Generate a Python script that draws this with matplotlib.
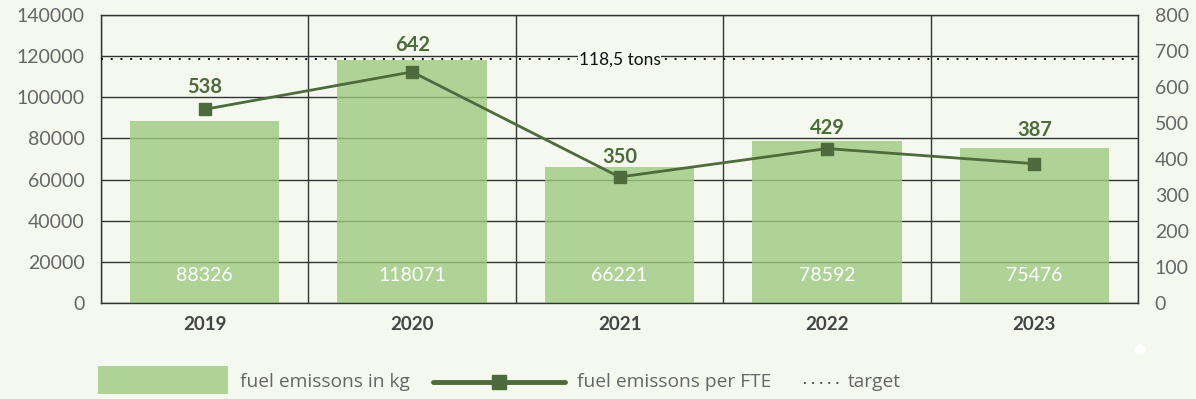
import matplotlib
matplotlib.use("Agg")
import matplotlib.pyplot as plt
from matplotlib.patches import Rectangle
from matplotlib.lines import Line2D
from matplotlib.transforms import offset_copy
import numpy as np

plt.rcParams['font.family'] = ['Lato', 'DejaVu Sans']

years = ['2019', '2020', '2021', '2022', '2023']
emissions_kg = [88326, 118071, 66221, 78592, 75476]
emissions_per_fte = [538, 642, 350, 429, 387]
target_kg = 118500
target_label = '118,5 tons'
left_ticks = [0, 20000, 40000, 60000, 80000, 100000, 120000, 140000]
right_ticks = [0, 100, 200, 300, 400, 500, 600, 700, 800]

# vertical gap (points) between each marker and its value label
label_gap_pt = [16, 19, 14.5, 15, 24.5]

bg = '#f5f8ee'
bar_color = '#9eca80'
line_color = '#4d6b3c'
grid_color = '#333333'
tick_color = '#666666'

fig = plt.figure(figsize=(11.96, 3.99), dpi=100, facecolor=bg)
ax = fig.add_axes([0.0845, 0.2406, 0.867, 0.7218])
ax.set_facecolor(bg)

x = np.arange(len(years))
ax.set_xlim(-0.5, len(years) - 0.5)
ax.set_ylim(0, 140000)

# grid: horizontal at every tick, vertical at category boundaries
for v in left_ticks:
    ax.axhline(v, color=grid_color, lw=1, zorder=1)
for b in np.arange(-0.5, len(years), 1.0):
    ax.axvline(b, color=grid_color, lw=1, zorder=1)

ax.bar(x, emissions_kg, width=0.72, color=bar_color, alpha=0.8, zorder=2)
for xi, v in zip(x, emissions_kg):
    ax.text(xi, 13500, f'{v}', ha='center', va='center', color='white',
            fontsize=14, zorder=5)

# target line
ax.axhline(target_kg, color='#111111', lw=1.4, ls=(0, (1, 4)), zorder=3)
ax.text(2, target_kg, target_label, ha='center', va='center', fontsize=12.5,
        color='#111111', zorder=4,
        bbox=dict(boxstyle='square,pad=0.05', fc=bg, ec='none'))

ax.set_xticks(x)
ax.set_xticklabels(years, fontsize=13.5, fontweight='bold', color='#444444')
ax.set_yticks(left_ticks)
ax.set_yticklabels([str(t) for t in left_ticks], fontsize=14, color=tick_color)
ax.tick_params(axis='both', length=0)
ax.tick_params(axis='x', pad=9)
ax.tick_params(axis='y', pad=12)
for s in ax.spines.values():
    s.set_color(grid_color)
    s.set_linewidth(1)

ax2 = ax.twinx()
ax2.set_ylim(0, 800)
ax2.set_yticks(right_ticks)
ax2.set_yticklabels([str(t) for t in right_ticks], fontsize=14, color=tick_color)
ax2.tick_params(axis='y', length=0, pad=12)
for s in ax2.spines.values():
    s.set_visible(False)

ax2.plot(x, emissions_per_fte, color=line_color, lw=2, marker='s',
         markersize=9, zorder=6)
for xi, v, gap in zip(x, emissions_per_fte, label_gap_pt):
    tr = offset_copy(ax2.transData, fig=fig, x=0, y=gap, units='points')
    ax2.text(xi, v, f'{v}', ha='center', va='center', color=line_color,
             fontsize=14.5, fontweight='bold', zorder=7, transform=tr)

# legend drawn in figure pixel coordinates
W, H = 1196, 399
def fx(px):
    return px / W
def fy(py):
    return 1 - py / H

legend_font = ['Open Sans', 'DejaVu Sans']
legend_size = 13.8
fig.patches.append(Rectangle((fx(98), fy(394)), fx(228) - fx(98), fy(366) - fy(394),
                             transform=fig.transFigure, fc=bar_color, alpha=0.8,
                             ec='none'))
fig.text(fx(240), fy(382), 'fuel emissons in kg', fontsize=legend_size,
         color=tick_color, va='center', ha='left', family=legend_font)
fig.lines.append(Line2D([fx(433), fx(565)], [fy(382), fy(382)],
                        transform=fig.transFigure, color=line_color, lw=3.5,
                        solid_capstyle='round'))
fig.lines.append(Line2D([fx(499)], [fy(382)], transform=fig.transFigure,
                        color=line_color, marker='s', markersize=10, lw=0))
fig.text(fx(577), fy(382), 'fuel emissons per FTE', fontsize=legend_size,
         color=tick_color, va='center', ha='left', family=legend_font)
fig.lines.append(Line2D([fx(804), fx(841)], [fy(383), fy(383)],
                        transform=fig.transFigure, color='#444444', lw=1.3,
                        ls=(0, (1, 3.5))))
fig.text(fx(848), fy(382), 'target', fontsize=legend_size,
         color=tick_color, va='center', ha='left', family=legend_font)

fig.lines.append(Line2D([fx(1140)], [fy(349)], transform=fig.transFigure,
                        color='white', marker='o', markersize=7, lw=0))

fig.savefig('out.png', dpi=100, facecolor=bg)
